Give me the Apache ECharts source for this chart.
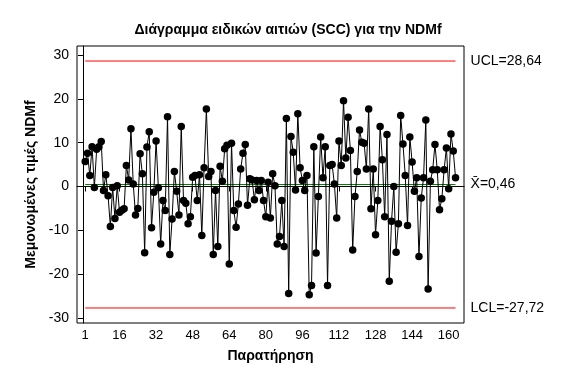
<!DOCTYPE html>
<html>
<head>
<meta charset="utf-8">
<script src="https://cdn.jsdelivr.net/npm/echarts@6/dist/echarts.min.js"></script>
<style>
html,body{margin:0;padding:0;background:#fff;}
#chart{width:576px;height:384px;}
</style>
</head>
<body>
<div id="chart"></div>
<script>
// Individual values (Μεμονωμένες τιμές NDMf), observations 1..163
const values = [
  5.7, 7.6, 2.5, 9.1, -0.2, 8.5, 9.1, 10.3, -0.9, 2.7, -2.1, -9.1, -0.2, -7.3, 0.2, -5.9, -5.4, -5.1, 4.8,
  1.5, 13.2, 0.6, -6.5, -5.0, 7.5, 2.9, -15.1, 9.0, 12.5, -9.4, -1.3, 10.4, -0.3, -13.1, -3.2, -5.5, 15.9, -15.5,
  -7.4, 3.4, -1.1, -6.5, 13.7, -3.2, -3.8, -8.5, -6.9, 2.1, 2.5, -3.2, 2.7, -11.2, 4.3, 17.7, 2.3, 3.4, -15.5, -0.9, -13.7,
  4.6, 1.2, 8.6, 9.4, -17.7, 9.9, -5.5, -9.3, -4.0, 4.0, 7.6, 9.6, -4.3, 1.8, 1.5, -3.0, 1.4, -0.9, 1.4, -3.2, -6.9,
  1.0, -7.2, 2.9, 0.2, -13.1, -11.4, -3.2, -13.7, 15.5, -24.4, 11.4, 7.8, -0.8, 16.6, 4.3, 1.4, -0.9, 2.5, -24.7,
  -22.6, 9.1, -15.2, -2.3, 11.3, 2.0, 9.1, -22.6, 4.8, 5.0, 0.6, -7.2, 10.4, 4.8, 19.6, 6.5, 15.8, 8.2, -14.5, -2.3,
  3.4, 12.9, 10.1, 9.9, 4.0, 17.7, -5.1, 4.0, -11.0, -3.2, 13.7, 6.1, -6.9, 11.9, -21.6, -7.9, 0, -15.0, -8.5, 16.2,
  9.7, 2.5, -8.9, 11.3, 5.6, -1.1, 2.0, -16.0, -2.6, 2.0, 15.2, -23.4, 1.2, 3.8, 9.6, 3.8, -5.3, -2.8, 3.8, 8.8, -0.5, 12.0, 8.1, 2.0
];
const UCL = 28.64;
const CENTER = 0.46;
const LCL = -27.72;
const xTicks = [1, 16, 32, 48, 64, 80, 96, 112, 128, 144, 160];
const yTicks = [-30, -20, -10, 0, 10, 20, 30];

const n = values.length;
const pts = values.map((v, i) => [i + 1, v]);
const fmt = v => String(v).replace('.', ',');
const FONT = '"Liberation Sans", Arial, sans-serif';

function limitSeries(val, color, text) {
  return {
    type: 'line',
    data: [[1, val], [n, val]],
    symbol: 'none',
    silent: true,
    lineStyle: { color: color, width: 1 },
    z: 1,
    endLabel: {
      show: true,
      formatter: text,
      distance: 15,
      color: '#000',
      fontFamily: FONT,
      fontSize: 14
    }
  };
}

const chart = echarts.init(document.getElementById('chart'), null, { renderer: 'canvas' });
chart.setOption({
  animation: false,
  backgroundColor: '#fff',
  title: {
    text: 'Διάγραμμα ειδικών αιτιών (SCC) για την NDMf',
    left: 'center',
    top: 18,
    textStyle: { fontFamily: FONT, fontSize: 14, fontWeight: 'bold', color: '#000' }
  },
  grid: {
    left: 77, right: 112, top: 46, bottom: 61,
    show: true, borderColor: '#000', borderWidth: 1, backgroundColor: 'transparent'
  },
  xAxis: {
    type: 'value',
    min: -2.6, max: 166.7,
    name: 'Παρατήρηση',
    nameLocation: 'middle',
    nameGap: 26,
    nameTextStyle: { fontFamily: FONT, fontSize: 14, fontWeight: 'bold', color: '#000' },
    axisLine: { show: true, lineStyle: { color: '#000', width: 1 } },
    axisTick: { show: true, customValues: xTicks, length: 5, lineStyle: { color: '#000' } },
    axisLabel: { customValues: xTicks, fontFamily: FONT, fontSize: 13, color: '#000', margin: 6 },
    splitLine: { show: false }
  },
  yAxis: {
    type: 'value',
    min: -31.15, max: 32.07,
    name: 'Μεμονωμένες τιμές NDMf',
    nameLocation: 'middle',
    nameGap: 30,
    nameRotate: 90,
    nameTextStyle: { fontFamily: FONT, fontSize: 14, fontWeight: 'bold', color: '#000' },
    axisLine: { show: true, lineStyle: { color: '#000', width: 1 } },
    axisTick: { show: true, customValues: yTicks, length: 5, lineStyle: { color: '#000' } },
    axisLabel: { customValues: yTicks, fontFamily: FONT, fontSize: 14, color: '#000', margin: 8 },
    splitLine: { show: false }
  },
  series: [
    limitSeries(UCL, '#ff0000', 'UCL=' + fmt(UCL)),
    limitSeries(CENTER, '#008000', 'X\u0304=' + fmt(CENTER)),
    limitSeries(LCL, '#ff0000', 'LCL=' + fmt(LCL)),
    {
      type: 'line',
      data: pts,
      symbol: 'circle',
      symbolSize: 7.5,
      itemStyle: { color: '#000', borderWidth: 0 },
      lineStyle: { color: '#000', width: 1 },
      z: 3
    }
  ]
});
</script>
</body>
</html>
